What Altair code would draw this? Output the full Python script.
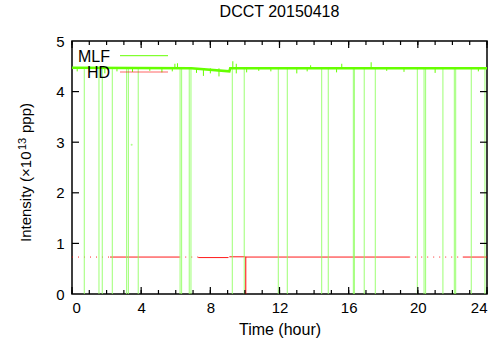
import altair as alt
import pandas as pd

FONT = "Liberation Sans"

# MLF main level (hour, 1e13 ppp)
mlf_t = [0.0, 6.9, 9.1, 9.15, 24.0]
mlf_v = [4.47, 4.46, 4.40, 4.46, 4.46]

# MLF dropouts to zero (hour)
drop_t = [0.71, 1.56, 1.75, 2.33, 3.16, 3.26, 3.83, 6.25, 6.34, 6.78, 6.88,
          9.27, 9.96, 11.93, 12.45, 14.44, 14.82, 16.27, 16.33, 16.90, 17.54,
          19.97, 20.36, 20.45, 21.45, 22.11, 22.19, 23.09, 23.88]
drop_top = 4.46

# short downward glitches
dip_t = [0.3, 1.0, 1.9, 2.6, 3.5, 4.5, 5.2, 5.8, 7.2, 7.6, 8.0, 8.5, 9.5,
         10.1, 10.8, 11.5, 13.0, 13.6, 15.3, 18.2, 19.2, 21.0, 23.5]
dip_v = [4.40, 4.38, 4.36, 4.40, 4.39, 4.41, 4.38, 4.40, 4.37, 4.31, 4.36,
         4.30, 4.36, 4.38, 4.41, 4.40, 4.36, 4.40, 4.38, 4.41, 4.39, 4.37, 4.40]

# short upward spikes
spike_t = [5.95, 6.1, 9.3, 9.5, 13.8, 15.6, 17.3]
spike_v = [4.55, 4.56, 4.60, 4.55, 4.52, 4.55, 4.58]
dot_t = [3.45]
dot_v = [2.95]

# HD segments
hd_solid_start = [2.2, 7.3, 9.1, 10.06, 22.6]
hd_solid_end = [6.2, 9.05, 10.04, 19.5, 24.0]
hd_solid_v = [0.73, 0.72, 0.735, 0.73, 0.73]
hd_dot_start = [0.0, 6.2, 19.5]
hd_dot_end = [2.2, 7.3, 22.6]
hd_dot_v = [0.73, 0.73, 0.73]
hd_drop_t = [10.05]
hd_drop_v = [0.735]

x_major = [0, 4, 8, 12, 16, 20, 24]
x_minor = list(range(25))
y_major = [1, 2, 3, 4]
y_labels = [0, 1, 2, 3, 4, 5]

W, H = 415, 253
GREEN = "#66ff00"
LGREEN = "#8cff5a"
RED = "#ff0000"

xs = alt.Scale(domain=[0, 24], nice=False, zero=False)
ys = alt.Scale(domain=[0, 5], nice=False, zero=False)
xaxis = alt.Axis(values=x_major, title="Time (hour)", ticks=False, domain=False,
                 grid=False, labelPadding=6, titlePadding=6, format="d")
yaxis = alt.Axis(values=y_labels, title=None, ticks=False,
                 domain=False, grid=False, labelPadding=8, format="d")
X = alt.X("t:Q", scale=xs, axis=xaxis)
Y = alt.Y("v:Q", scale=ys, axis=yaxis)

df_mlf = pd.DataFrame({"t": mlf_t, "v": mlf_v})
df_drop = pd.DataFrame({"t": drop_t, "v": [drop_top] * len(drop_t)})
df_drop["lo"] = 0.0
df_dip = pd.DataFrame({"t": dip_t, "v": dip_v})
df_dip["lo"] = drop_top
df_spike = pd.DataFrame({"t": spike_t, "v": spike_v})
df_spike["lo"] = drop_top
df_dot = pd.DataFrame({"t": dot_t, "v": dot_v})
df_hds = pd.DataFrame({"t": hd_solid_start, "t2": hd_solid_end, "v": hd_solid_v})
df_hdd = pd.DataFrame({"t": hd_dot_start, "t2": hd_dot_end, "v": hd_dot_v})
df_hdx = pd.DataFrame({"t": hd_drop_t, "v": hd_drop_v})
df_hdx["lo"] = 0.0
one = pd.DataFrame({"a": [0]})

layers = []
# HD
layers.append(alt.Chart(df_hdd).mark_rule(color=RED, strokeWidth=1, strokeDash=[1, 5], opacity=0.85)
              .encode(x=X, x2="t2:Q", y=Y))
layers.append(alt.Chart(df_hds).mark_rule(color=RED, strokeWidth=1, opacity=0.9)
              .encode(x=X, x2="t2:Q", y=Y))
layers.append(alt.Chart(df_hdx).mark_rule(color=RED, strokeWidth=1)
              .encode(x=X, y=Y, y2="lo:Q"))
# MLF dropouts
layers.append(alt.Chart(df_drop).mark_rule(color=LGREEN, strokeWidth=1, opacity=0.85)
              .encode(x=X, y=Y, y2="lo:Q"))
layers.append(alt.Chart(df_dip).mark_rule(color=GREEN, strokeWidth=1)
              .encode(x=X, y=Y, y2="lo:Q"))
layers.append(alt.Chart(df_spike).mark_rule(color=GREEN, strokeWidth=1)
              .encode(x=X, y=Y, y2="lo:Q"))
layers.append(alt.Chart(df_dot).mark_point(color=LGREEN, size=4, filled=True)
              .encode(x=X, y=Y))
layers.append(alt.Chart(df_mlf).mark_line(color=GREEN, strokeWidth=2.5)
              .encode(x=X, y=Y))

# inward ticks
df_xM = pd.DataFrame({"t": x_major})
df_xm = pd.DataFrame({"t": x_minor})
df_yM = pd.DataFrame({"v": y_major})
tk = dict(color="black", strokeWidth=1.2)
layers.append(alt.Chart(df_xM).mark_rule(**tk).encode(x=X, y=alt.value(H), y2=alt.value(H - 7)))
layers.append(alt.Chart(df_xM).mark_rule(**tk).encode(x=X, y=alt.value(0), y2=alt.value(7)))
layers.append(alt.Chart(df_xm).mark_rule(**tk).encode(x=X, y=alt.value(H), y2=alt.value(H - 4)))
layers.append(alt.Chart(df_xm).mark_rule(**tk).encode(x=X, y=alt.value(0), y2=alt.value(4)))
layers.append(alt.Chart(df_yM).mark_rule(**tk).encode(y=Y, x=alt.value(0), x2=alt.value(7)))
layers.append(alt.Chart(df_yM).mark_rule(**tk).encode(y=Y, x=alt.value(W), x2=alt.value(W - 7)))

# y-axis title with a real superscript
txt = dict(font=FONT, color="black", angle=270, align="left", baseline="alphabetic")
layers.append(alt.Chart(one).mark_text(text="Intensity (×10", fontSize=15, **txt)
              .encode(x=alt.value(-41), y=alt.value(201)))
layers.append(alt.Chart(one).mark_text(text="13", fontSize=11, **txt)
              .encode(x=alt.value(-46), y=alt.value(109)))
layers.append(alt.Chart(one).mark_text(text="ppp)", fontSize=15, **txt)
              .encode(x=alt.value(-41), y=alt.value(92)))

# legend (gnuplot style: label left, sample right)
layers.append(alt.Chart(one).mark_text(text="MLF", align="right", baseline="alphabetic",
                                        font=FONT, fontSize=16, color="black")
              .encode(x=alt.value(38), y=alt.value(21)))
layers.append(alt.Chart(one).mark_rule(color=GREEN, strokeWidth=1)
              .encode(x=alt.value(48), x2=alt.value(96), y=alt.value(14.7)))
layers.append(alt.Chart(one).mark_text(text="HD", align="right", baseline="alphabetic",
                                        font=FONT, fontSize=16, color="black")
              .encode(x=alt.value(38), y=alt.value(37)))
layers.append(alt.Chart(one).mark_rule(color=RED, strokeWidth=1, opacity=0.6)
              .encode(x=alt.value(48), x2=alt.value(96), y=alt.value(31)))

chart = alt.layer(*layers).properties(
    width=W, height=H,
    title=alt.Title("DCCT 20150418", font=FONT, fontSize=16, fontWeight="normal",
                    color="black", anchor="middle", offset=14),
    autosize=alt.AutoSizeParams(type="none"),
    padding={"left": 72, "top": 41, "right": 15, "bottom": 52},
    background="white",
).configure_view(stroke="black", strokeWidth=1.5).configure_axis(
    labelFont=FONT, labelFontSize=15, labelColor="black",
    titleFont=FONT, titleFontSize=16, titleFontWeight="normal", titleColor="black",
)

chart.save("out.html", embed_options={"renderer": "svg", "actions": False})
